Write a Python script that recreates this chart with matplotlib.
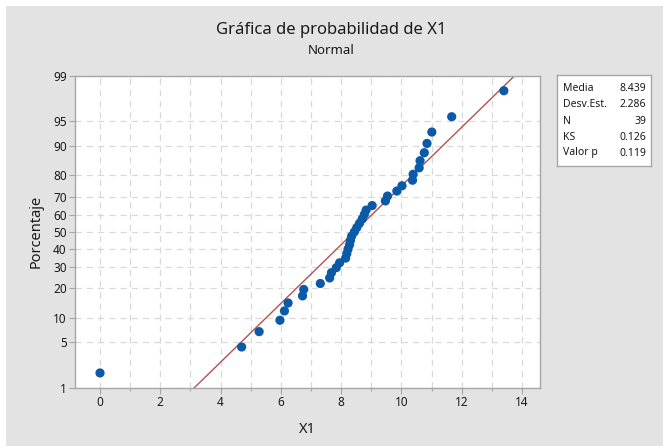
import matplotlib
matplotlib.use("Agg")
import matplotlib.pyplot as plt
from matplotlib.patches import Rectangle
from statistics import NormalDist
import numpy as np

# Data (X1 values, sorted)
x1_values = [0.0, 4.70, 5.28, 5.97, 6.12, 6.24, 6.72, 6.76, 7.31, 7.62, 7.68,
             7.84, 7.95, 8.15, 8.19, 8.23, 8.28, 8.31, 8.35, 8.44, 8.52, 8.61,
             8.70, 8.77, 8.83, 9.03, 9.47, 9.54, 9.85, 10.02, 10.37, 10.39,
             10.59, 10.62, 10.76, 10.85, 11.01, 11.67, 13.40]
pct_ticks = [1, 5, 10, 20, 30, 40, 50, 60, 70, 80, 90, 95, 99]
x_ticks = [0, 2, 4, 6, 8, 10, 12, 14]
stat_labels = ["Media", "Desv.Est.", "N", "KS", "Valor p"]
stat_values = ["8.439", "2.286", "39", "0.126", "0.119"]
fit_mean = 8.439
fit_sd = 2.286

plt.rcParams['font.family'] = ['Noto Sans', 'DejaVu Sans']
nd = NormalDist()
n = len(x1_values)
# Median-rank plotting positions (Minitab default)
z_pts = [nd.inv_cdf((i - 0.3) / (n + 0.4)) for i in range(1, n + 1)]

W, H = 663, 446
fig = plt.figure(figsize=(W / 100, H / 100), dpi=100)
fig.patch.set_facecolor('white')
bg = Rectangle((6 / W, 0), 1 - 6 / W, 1 - 6 / H, transform=fig.transFigure,
               facecolor='#e3e3e3', edgecolor='none', zorder=-10)
fig.patches.append(bg)

ax = fig.add_axes([75 / W, 1 - 388 / H, (540 - 75) / W, (388 - 75.7) / H])
ax.set_facecolor('white')
zlo, zhi = nd.inv_cdf(0.01), nd.inv_cdf(0.99)
ax.set_ylim(zlo, zhi)
ax.set_xlim(-0.83, 14.6)

ax.set_yticks([nd.inv_cdf(p / 100) for p in pct_ticks])
ax.set_yticklabels([str(p) for p in pct_ticks])
ax.set_xticks(x_ticks)
ax.set_xticks(np.arange(1, 15, 2), minor=True)
ax.tick_params(axis='x', which='minor', length=2.5, width=0.8, color='#a6a6a6', direction='out')

ax.grid(True, which='both', axis='x', linestyle=(0, (5, 4)), color='#d9d9d9', linewidth=0.9)
ax.grid(True, which='major', axis='y', linestyle=(0, (5, 4)), color='#d9d9d9', linewidth=0.9)
ax.set_axisbelow(True)

for s in ax.spines.values():
    s.set_color('#a6a6a6')
    s.set_linewidth(1.0)
ax.tick_params(axis='both', which='major', length=4, width=0.8, color='#a6a6a6',
               labelsize=8.5, labelcolor='#1a1a1a', direction='out', pad=2)

# Fitted line
zl = np.array([zlo, zhi])
ax.plot(fit_mean + fit_sd * zl, zl, color='#b5524f', linewidth=1.0, zorder=2)
ax.scatter(x1_values, z_pts, s=44, color='#0a5aa8', edgecolors='none', zorder=3)

ax.set_xlabel('X1', fontsize=10.5, color='#1a1a1a', labelpad=9)
ax.set_ylabel('Porcentaje', fontsize=10.5, color='#1a1a1a', labelpad=7)

fig.text(0.5, 1 - 30 / H, 'Gráfica de probabilidad de X1', ha='center', va='center',
         fontsize=12, color='#1a1a1a')
fig.text(0.5, 1 - 50 / H, 'Normal', ha='center', va='center', fontsize=9.5,
         color='#1a1a1a')

# Stats box
bx = fig.add_axes([557 / W, 1 - 166 / H, (651 - 557) / W, (166 - 75) / H])
bx.set_facecolor('white')
bx.set_xticks([]); bx.set_yticks([])
bx.set_xlim(0, 1); bx.set_ylim(0, 1)
for s in bx.spines.values():
    s.set_color('#a6a6a6')
    s.set_linewidth(1.0)
row_y = [89, 105, 121, 137, 153]
for lab, val, yy in zip(stat_labels, stat_values, row_y):
    fy = (166 - yy) / (166 - 75)
    bx.text(6 / 94, fy, lab, ha='left', va='center', fontsize=7.5, color='#1a1a1a')
    bx.text(89 / 94, fy, val, ha='right', va='center', fontsize=7.5, color='#1a1a1a')

fig.savefig('out.png', dpi=100)
